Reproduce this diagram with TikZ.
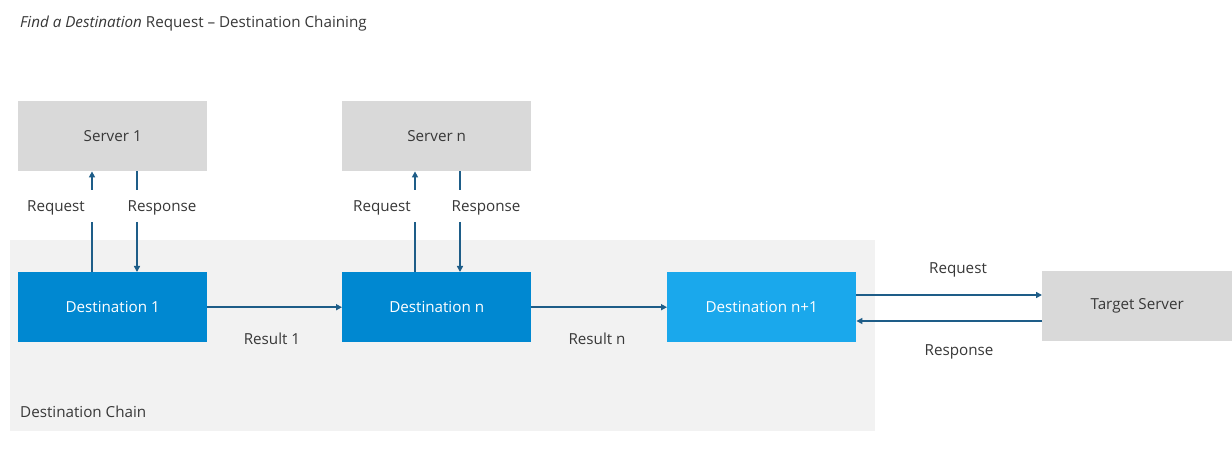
\documentclass[tikz,border=0pt]{standalone}
\usepackage{fontspec}
\setmainfont{Open Sans}
\usetikzlibrary{arrows.meta}
\definecolor{chainbg}{RGB}{242,242,242}
\definecolor{srvgray}{RGB}{217,217,217}
\definecolor{dblue}{RGB}{0,136,209}
\definecolor{lblue}{RGB}{26,168,236}
\definecolor{arrcol}{RGB}{30,93,136}
\definecolor{txt}{RGB}{56,56,56}
\begin{document}
\begin{tikzpicture}[x=1pt,y=-1pt,
  font=\fontsize{15.2}{18}\selectfont,
  box/.style={minimum width=189pt,minimum height=70pt,inner sep=0pt,anchor=north west},
  srv/.style={box,fill=srvgray,text=txt},
  dst/.style={box,fill=dblue,text=white},
  dstl/.style={box,fill=lblue,text=white},
  arr/.style={draw=arrcol,line width=1.6pt,-{Triangle[length=6pt,width=6pt]}},
  seg/.style={draw=arrcol,line width=1.6pt},
  lbl/.style={text=txt,inner sep=0pt,yshift=-1.5pt}]
\useasboundingbox (0,0) rectangle (1232,449);
\fill[white] (0,0) rectangle (1232,449);
\node[lbl,anchor=west] (title) at (20,22) {\textit{Find a Destination} Request – Destination Chaining};
\node[fill=chainbg,minimum width=865pt,minimum height=191pt,inner sep=0pt,anchor=north west] (chain) at (10,240) {};
\node[lbl,anchor=west] (chainlbl) at (20,410) {Destination Chain};
\node[srv] (s1) at (18,101) {Server 1};
\node[srv] (sn) at (342,101) {Server n};
\node[dst] (d1) at (18,272) {Destination 1};
\node[dst] (dn) at (342,272) {Destination n};
\node[dstl] (dn1) at (667,272) {Destination n+1};
\node[srv,minimum width=190pt] (ts) at (1042,271) {Target Server};
% server 1 request/response
\coordinate (r1a) at (92,222); \coordinate (r1b) at (92,190);
\coordinate (p1a) at (137,190); \coordinate (p1b) at (137,222);
\draw[seg] (d1.north -| r1a) -- (r1a);
\draw[arr] (r1b) -- (s1.south -| r1b);
\draw[seg] (s1.south -| p1a) -- (p1a);
\draw[arr] (p1b) -- (d1.north -| p1b);
\node[lbl] (rq1) at (56,206) {Request};
\node[lbl] (rs1) at (162,206) {Response};
% server n request/response
\coordinate (r2a) at (415,222); \coordinate (r2b) at (415,190);
\coordinate (p2a) at (460,190); \coordinate (p2b) at (460,222);
\draw[seg] (dn.north -| r2a) -- (r2a);
\draw[arr] (r2b) -- (sn.south -| r2b);
\draw[seg] (sn.south -| p2a) -- (p2a);
\draw[arr] (p2b) -- (dn.north -| p2b);
\node[lbl] (rq2) at (382,206) {Request};
\node[lbl] (rs2) at (486,206) {Response};
% results
\draw[arr] (d1.east) -- (dn.west);
\node[lbl] (res1) at (272,337) {Result 1};
\draw[arr] (dn.east) -- (dn1.west);
\node[lbl] (resn) at (597,337) {Result n};
% target server
\coordinate (tq) at (0,295); \coordinate (tp) at (0,321);
\draw[arr] (dn1.east |- tq) -- (ts.west |- tq);
\draw[arr] (ts.west |- tp) -- (dn1.east |- tp);
\node[lbl] (rq3) at (958,268) {Request};
\node[lbl] (rs3) at (959,350) {Response};
\end{tikzpicture}
\end{document}
